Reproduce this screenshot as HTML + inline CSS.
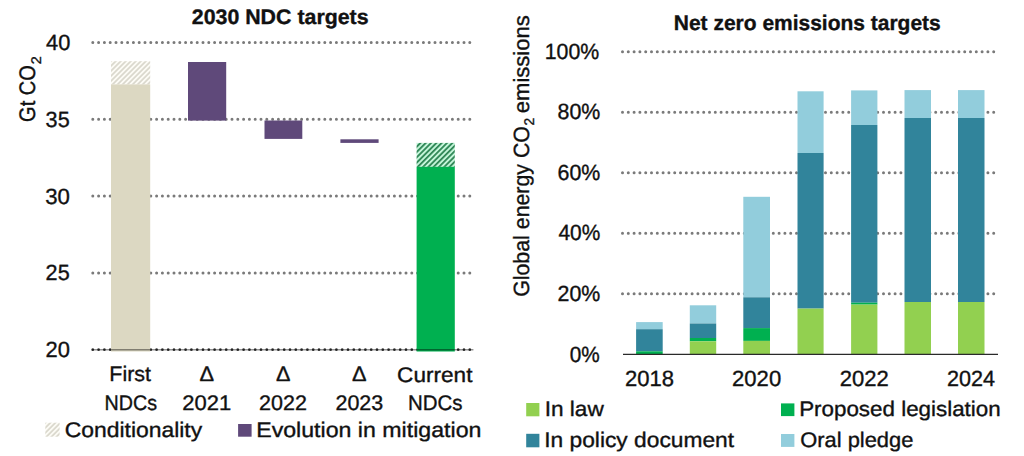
<!DOCTYPE html><html><head><meta charset="utf-8"><style>html,body{margin:0;padding:0;background:#fff;}svg{display:block;}text{font-family:'Liberation Sans', Arial, sans-serif;fill:#111;stroke:#111;stroke-width:0.35px;text-rendering:geometricPrecision;}</style></head><body>
<svg width="1024" height="456" viewBox="0 0 1024 456">
<defs>
<pattern id="hb" patternUnits="userSpaceOnUse" width="3.55" height="3.55" patternTransform="rotate(45)">
<rect width="3.55" height="3.55" fill="#fcfbf5"/><rect width="1.7" height="3.55" fill="#d9d7cc"/></pattern>
<pattern id="hg" patternUnits="userSpaceOnUse" width="3.75" height="3.75" patternTransform="rotate(45)">
<rect width="3.75" height="3.75" fill="#c3f5d9"/><rect width="1.8" height="3.75" fill="#2e8655"/></pattern>
</defs>
<rect width="1024" height="456" fill="#fff"/>
<line x1="92.8" y1="42.5" x2="470.5" y2="42.5" stroke="#7a7a7a" stroke-width="3.0" stroke-linecap="round" stroke-dasharray="0 5.8"/>
<line x1="92.8" y1="119.3" x2="470.5" y2="119.3" stroke="#7a7a7a" stroke-width="3.0" stroke-linecap="round" stroke-dasharray="0 5.8"/>
<line x1="92.8" y1="196.1" x2="470.5" y2="196.1" stroke="#7a7a7a" stroke-width="3.0" stroke-linecap="round" stroke-dasharray="0 5.8"/>
<line x1="92.8" y1="272.9" x2="470.5" y2="272.9" stroke="#7a7a7a" stroke-width="3.0" stroke-linecap="round" stroke-dasharray="0 5.8"/>
<rect x="111" y="61.2" width="39.2" height="23.3" fill="url(#hb)"/>
<line x1="92.8" y1="349.7" x2="470.5" y2="349.7" stroke="#3a3a3a" stroke-width="2.7" stroke-linecap="round" stroke-dasharray="0 5.8"/>
<rect x="111" y="84.4" width="39.2" height="267.1" fill="#dcd8c2"/>
<rect x="188" y="62" width="38.2" height="58.6" fill="#5f497a"/>
<rect x="264.5" y="120.5" width="37.8" height="18.4" fill="#5f497a"/>
<rect x="340.4" y="139.3" width="38.2" height="3.6" fill="#5f497a"/>
<rect x="416.6" y="142.9" width="38.2" height="24" fill="url(#hg)"/>
<rect x="416.6" y="166.8" width="38.2" height="184.7" fill="#00b050"/>
<line x1="91.5" y1="349.7" x2="473.4" y2="349.7" stroke="#000" stroke-opacity="0.42" stroke-width="1.6"/>
<text x="46.0" y="49.9" font-size="22" textLength="24.28" lengthAdjust="spacingAndGlyphs">40</text>
<text x="45.62" y="126.7" font-size="22" textLength="24.06" lengthAdjust="spacingAndGlyphs">35</text>
<text x="45.29" y="203.6" font-size="22" textLength="24.7" lengthAdjust="spacingAndGlyphs">30</text>
<text x="45.62" y="280.4" font-size="22" textLength="24.06" lengthAdjust="spacingAndGlyphs">25</text>
<text x="45.6" y="357.3" font-size="22" textLength="24.38" lengthAdjust="spacingAndGlyphs">20</text>
<text transform="translate(35.3,0) rotate(-90)" x="-121.89" y="0" font-size="22.5" textLength="56.77" lengthAdjust="spacingAndGlyphs">Gt CO</text>
<text transform="translate(40.8,0) rotate(-90)" x="-64.23" y="0" font-size="14" textLength="8.06" lengthAdjust="spacingAndGlyphs">2</text>
<text x="109.36" y="381.1" font-size="21" textLength="41.67" lengthAdjust="spacingAndGlyphs">First</text>
<text x="104.52" y="409.6" font-size="21" textLength="52.51" lengthAdjust="spacingAndGlyphs">NDCs</text>
<text x="199.46" y="381.4" font-size="21" textLength="14.57" lengthAdjust="spacingAndGlyphs">&#916;</text>
<text x="182.35" y="409.9" font-size="21" textLength="48.9" lengthAdjust="spacingAndGlyphs">2021</text>
<text x="275.97" y="381.4" font-size="21" textLength="14.46" lengthAdjust="spacingAndGlyphs">&#916;</text>
<text x="259.08" y="409.9" font-size="21" textLength="47.86" lengthAdjust="spacingAndGlyphs">2022</text>
<text x="351.96" y="381.4" font-size="21" textLength="14.57" lengthAdjust="spacingAndGlyphs">&#916;</text>
<text x="335.48" y="409.9" font-size="21" textLength="47.76" lengthAdjust="spacingAndGlyphs">2023</text>
<text x="397.12" y="381.5" font-size="21" textLength="75.31" lengthAdjust="spacingAndGlyphs">Current</text>
<text x="408.05" y="409.9" font-size="21" textLength="54.52" lengthAdjust="spacingAndGlyphs">NDCs</text>
<text x="191.78" y="24.1" font-size="21" font-weight="bold" textLength="176.84" lengthAdjust="spacingAndGlyphs">2030 NDC targets</text>
<rect x="45.3" y="422.7" width="14.3" height="14" fill="url(#hb)"/>
<text x="64.71" y="436.7" font-size="21" textLength="137.48" lengthAdjust="spacingAndGlyphs">Conditionality</text>
<rect x="238.1" y="424" width="13.5" height="12.7" fill="#5f497a"/>
<text x="256.2" y="437.2" font-size="21" textLength="225.22" lengthAdjust="spacingAndGlyphs">Evolution in mitigation</text>
<line x1="622.5" y1="51.8" x2="995.0" y2="51.8" stroke="#7a7a7a" stroke-width="3.0" stroke-linecap="round" stroke-dasharray="0 5.8"/>
<line x1="622.5" y1="112.3" x2="995.0" y2="112.3" stroke="#7a7a7a" stroke-width="3.0" stroke-linecap="round" stroke-dasharray="0 5.8"/>
<line x1="622.5" y1="172.8" x2="995.0" y2="172.8" stroke="#7a7a7a" stroke-width="3.0" stroke-linecap="round" stroke-dasharray="0 5.8"/>
<line x1="622.5" y1="233.3" x2="995.0" y2="233.3" stroke="#7a7a7a" stroke-width="3.0" stroke-linecap="round" stroke-dasharray="0 5.8"/>
<line x1="622.5" y1="293.8" x2="995.0" y2="293.8" stroke="#7a7a7a" stroke-width="3.0" stroke-linecap="round" stroke-dasharray="0 5.8"/>
<rect x="636.1" y="322.1" width="26.6" height="7.1" fill="#92cddc"/>
<rect x="636.1" y="329.2" width="26.6" height="22.1" fill="#31849b"/>
<rect x="636.1" y="351.3" width="26.6" height="2.9" fill="#00b050"/>
<rect x="689.8" y="305.3" width="26.4" height="18.2" fill="#92cddc"/>
<rect x="689.8" y="323.5" width="26.4" height="14.5" fill="#31849b"/>
<rect x="689.8" y="338" width="26.4" height="3.3" fill="#00b050"/>
<rect x="689.8" y="341.3" width="26.4" height="12.9" fill="#92d050"/>
<rect x="743.3" y="196.8" width="26.7" height="100.5" fill="#92cddc"/>
<rect x="743.3" y="297.3" width="26.7" height="30.8" fill="#31849b"/>
<rect x="743.3" y="328.1" width="26.7" height="12.8" fill="#00b050"/>
<rect x="743.3" y="340.9" width="26.7" height="13.3" fill="#92d050"/>
<rect x="797.5" y="91.3" width="26.1" height="61.7" fill="#92cddc"/>
<rect x="797.5" y="153" width="26.1" height="155.6" fill="#31849b"/>
<rect x="797.5" y="308.6" width="26.1" height="45.6" fill="#92d050"/>
<rect x="851.1" y="90.4" width="26.3" height="34.6" fill="#92cddc"/>
<rect x="851.1" y="125" width="26.3" height="177.7" fill="#31849b"/>
<rect x="851.1" y="302.7" width="26.3" height="1.9" fill="#00b050"/>
<rect x="851.1" y="304.6" width="26.3" height="49.6" fill="#92d050"/>
<rect x="904.5" y="90.1" width="26.5" height="27.9" fill="#92cddc"/>
<rect x="904.5" y="118" width="26.5" height="184" fill="#31849b"/>
<rect x="904.5" y="302" width="26.5" height="52.2" fill="#92d050"/>
<rect x="958.0" y="90.1" width="26.5" height="27.9" fill="#92cddc"/>
<rect x="958.0" y="118" width="26.5" height="184" fill="#31849b"/>
<rect x="958.0" y="302" width="26.5" height="52.2" fill="#92d050"/>
<line x1="623" y1="354.4" x2="998" y2="354.4" stroke="#2a2a2a" stroke-width="1.3"/>
<text x="544.76" y="59.0" font-size="22" textLength="54.51" lengthAdjust="spacingAndGlyphs">100%</text>
<text x="557.53" y="119.2" font-size="22" textLength="42.79" lengthAdjust="spacingAndGlyphs">80%</text>
<text x="557.53" y="179.7" font-size="22" textLength="42.79" lengthAdjust="spacingAndGlyphs">60%</text>
<text x="558.5" y="240.2" font-size="22" textLength="41.79" lengthAdjust="spacingAndGlyphs">40%</text>
<text x="557.53" y="300.7" font-size="22" textLength="42.79" lengthAdjust="spacingAndGlyphs">20%</text>
<text x="569.76" y="361.6" font-size="22" textLength="30.0" lengthAdjust="spacingAndGlyphs">0%</text>
<text transform="translate(528.6,0) rotate(-90)" x="-296.87" y="0" font-size="22" textLength="170.83" lengthAdjust="spacingAndGlyphs">Global energy CO</text>
<text transform="translate(534.3,0) rotate(-90)" x="-125.48" y="0" font-size="14" textLength="7.67" lengthAdjust="spacingAndGlyphs">2</text>
<text transform="translate(528.6,0) rotate(-90)" x="-113.2" y="0" font-size="22" textLength="97.91" lengthAdjust="spacingAndGlyphs">emissions</text>
<text x="624.9" y="386" font-size="22" textLength="49.06" lengthAdjust="spacingAndGlyphs">2018</text>
<text x="732.1" y="386" font-size="22" textLength="49.06" lengthAdjust="spacingAndGlyphs">2020</text>
<text x="839.7" y="386" font-size="22" textLength="49.06" lengthAdjust="spacingAndGlyphs">2022</text>
<text x="946.92" y="386" font-size="22" textLength="48.04" lengthAdjust="spacingAndGlyphs">2024</text>
<text x="673.8" y="30.0" font-size="21" font-weight="bold" textLength="266.96" lengthAdjust="spacingAndGlyphs">Net zero emissions targets</text>
<rect x="526.2" y="403" width="13.2" height="13.3" fill="#92d050"/>
<text x="544.65" y="416.4" font-size="21" textLength="59.1" lengthAdjust="spacingAndGlyphs">In law</text>
<rect x="526.2" y="433.8" width="13.2" height="13.5" fill="#31849b"/>
<text x="544.23" y="447.3" font-size="21" textLength="189.89" lengthAdjust="spacingAndGlyphs">In policy document</text>
<rect x="781" y="403.4" width="13.4" height="12.7" fill="#00b050"/>
<text x="799.17" y="416.1" font-size="21" textLength="201.53" lengthAdjust="spacingAndGlyphs">Proposed legislation</text>
<rect x="781" y="434" width="13.4" height="12.9" fill="#92cddc"/>
<text x="800.26" y="447.0" font-size="21" textLength="113.14" lengthAdjust="spacingAndGlyphs">Oral pledge</text>
</svg></body></html>
